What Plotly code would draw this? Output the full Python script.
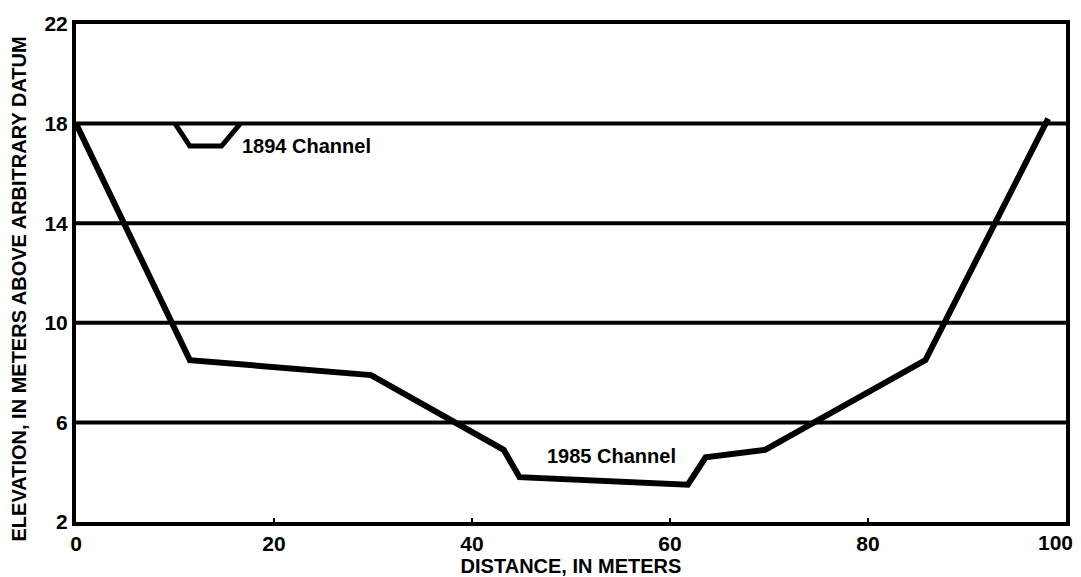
import plotly.graph_objects as go

# 1985 channel cross-section
dist_1985 = [0, 11.5, 29.8, 43.2, 44.8, 61.8, 63.6, 69.6, 85.8, 98.2]
elev_1985 = [18.0, 8.5, 7.9, 4.9, 3.8, 3.5, 4.6, 4.9, 8.5, 18.2]

# 1894 channel cross-section
dist_1894 = [10, 11.5, 14.7, 16.6]
elev_1894 = [18.0, 17.1, 17.1, 18.0]

x_ticks = [0, 20, 40, 60, 80, 100]
x_tick_text = ["0", "20", "40", "60", "80", ""]   # "100" drawn right-aligned below
y_ticks = [2, 6, 10, 14, 18, 22]
grid_levels = [6, 10, 14, 18]

labels = [
    dict(text="1894 Channel", x=16.6, y=17.1, anchor='left'),
    dict(text="1985 Channel", x=54.1, y=4.65, anchor='center'),
]

font_family = "Liberation Sans, Arial, sans-serif"
tick_font = dict(family=font_family, size=21, color='black', weight='bold')
title_font = dict(family=font_family, size=20, color='black', weight='bold')

fig = go.Figure()
fig.add_trace(go.Scatter(x=dist_1985, y=elev_1985, mode='lines',
                         line=dict(color='black', width=6), showlegend=False))
fig.add_trace(go.Scatter(x=dist_1894, y=elev_1894, mode='lines',
                         line=dict(color='black', width=5), showlegend=False))

for lab in labels:
    fig.add_annotation(x=lab['x'], y=lab['y'], text=lab['text'], showarrow=False,
                       xanchor=lab['anchor'],
                       font=dict(family=font_family, size=20, color='black', weight='bold'))

# last x tick label sits flush with the right edge
fig.add_annotation(x=x_ticks[-1], y=y_ticks[0], text=str(x_ticks[-1]), showarrow=False,
                   xanchor='right', yanchor='top', xshift=9, yshift=-7, font=tick_font)

# y-axis title, slightly below centre as in the original
fig.add_annotation(xref='paper', yref='paper', x=-0.058, y=0.468, textangle=-90,
                   text='ELEVATION, IN METERS ABOVE ARBITRARY DATUM', showarrow=False,
                   xanchor='center', yanchor='middle', font=title_font)

axis_common = dict(
    showline=True, linecolor='black', linewidth=4, mirror=True,
    ticks='inside', ticklen=4, tickwidth=2, tickcolor='black',
    zeroline=False, automargin=False,
    tickfont=tick_font,
)

fig.update_xaxes(range=[0, 100], tickvals=x_ticks, ticktext=x_tick_text, showgrid=False,
                 title=dict(text='DISTANCE, IN METERS', standoff=6, font=title_font),
                 **axis_common)
fig.update_yaxes(range=[2, 22], tickvals=y_ticks, showgrid=False, **axis_common)

# heavy horizontal grid lines
for g in grid_levels:
    fig.add_hline(y=g, line=dict(color='black', width=4), layer='below')

fig.update_layout(
    width=1081, height=577,
    margin=dict(l=76, r=15, t=24, b=55),
    plot_bgcolor='white', paper_bgcolor='white',
)

fig.write_html("out.html", config={'displayModeBar': False},
               post_script="document.body.style.margin='0';")
